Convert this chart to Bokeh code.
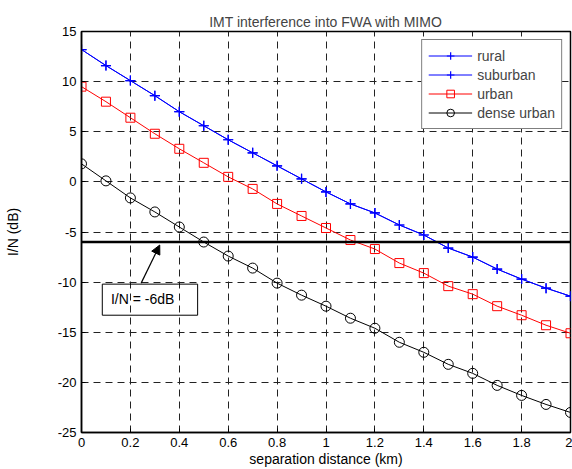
from bokeh.plotting import figure
from bokeh.models import (Span, Arrow, NormalHead, BoxAnnotation, Label, Legend,
                          LegendItem, FixedTicker, Range1d)
from bokeh.embed import file_html
from bokeh.resources import INLINE

# ---- data ----
distance_km = [0.0, 0.1, 0.2, 0.3, 0.4, 0.5, 0.6, 0.7, 0.8, 0.9, 1.0,
               1.1, 1.2, 1.3, 1.4, 1.5, 1.6, 1.7, 1.8, 1.9, 2.0]
rural = [13.2, 11.6, 10.1, 8.6, 7.0, 5.6, 4.2, 2.9, 1.6, 0.3, -1.0,
         -2.2, -3.1, -4.3, -5.3, -6.6, -7.5, -8.7, -9.7, -10.6, -11.4]
suburban = list(rural)
urban = [9.5, 8.0, 6.4, 4.8, 3.3, 1.9, 0.5, -0.7, -2.2, -3.4, -4.6,
         -5.8, -6.7, -8.1, -9.1, -10.4, -11.2, -12.4, -13.3, -14.3, -15.1]
dense_urban = [1.8, 0.1, -1.6, -3.0, -4.5, -6.0, -7.4, -8.6, -10.1, -11.3, -12.4,
               -13.6, -14.6, -16.0, -17.0, -18.2, -19.1, -20.3, -21.3, -22.2, -23.0]

x_ticks = [0, 0.2, 0.4, 0.6, 0.8, 1.0, 1.2, 1.4, 1.6, 1.8, 2.0]
x_tick_labels = ["0", "0.2", "0.4", "0.6", "0.8", "1", "1.2", "1.4", "1.6", "1.8", "2"]
y_ticks = [-25, -20, -15, -10, -5, 0, 5, 10, 15]
y_tick_labels = ["-25", "-20", "-15", "-10", "-5", "0", "5", "10", "15"]

threshold_db = -6
annotation_text = "I/N = -6dB"
arrow_tail = (0.244, -10.1)
arrow_tip = (0.32, -6.3)
text_box = dict(left=0.085, right=0.475, top=-10.2, bottom=-13.3)
text_pos = (0.25, -11.7)

FONT = "Liberation Sans"

p = figure(width=572, height=469, output_backend="svg", toolbar_location=None,
           x_range=Range1d(0, 2), y_range=Range1d(-25, 15),
           min_border_left=81, min_border_right=2, min_border_top=31,
           min_border_bottom=37)

p.title.text = "IMT interference into FWA with MIMO"
p.title.align = "center"
p.title.text_font = FONT
p.title.text_font_size = "14px"
p.title.text_font_style = "normal"
p.title.offset = 0
p.title.standoff = 4

p.outline_line_color = "black"
p.outline_line_width = 1.5
p.background_fill_color = "white"
p.border_fill_color = "white"

for ax in (p.xaxis[0], p.yaxis[0]):
    ax.axis_line_color = "black"
    ax.axis_line_width = 1.5
    ax.major_tick_in = 4
    ax.major_tick_out = 0
    ax.minor_tick_line_color = None
    ax.major_label_text_font = FONT
    ax.major_label_text_font_size = "13px"
    ax.major_label_text_color = "black"
    ax.axis_label_text_font = FONT
    ax.axis_label_text_font_size = "14px"
    ax.axis_label_text_font_style = "normal"
    ax.axis_label_text_color = "black"

p.xaxis.ticker = FixedTicker(ticks=x_ticks)
p.xaxis.major_label_overrides = {t: l for t, l in zip(x_ticks, x_tick_labels)}
p.yaxis.ticker = FixedTicker(ticks=y_ticks)
p.yaxis.major_label_overrides = {t: l for t, l in zip(y_ticks, y_tick_labels)}
p.xaxis.axis_label = "separation distance (km)"
p.yaxis.axis_label = "I/N (dB)"
p.xaxis.major_label_standoff = 5
p.yaxis.major_label_standoff = 5
p.xaxis.axis_label_standoff = 1
p.yaxis.axis_label_standoff = 34

p.grid.grid_line_color = "#222222"
p.grid.grid_line_dash = "7 5"
p.grid.grid_line_width = 1

# series
r1l = p.line(distance_km, rural, line_color="blue", line_width=1)
r1m = p.scatter(distance_km, rural, marker="cross", size=10, line_color="blue", line_width=1.2)
r2l = p.line(distance_km, suburban, line_color="blue", line_width=1)
r2m = p.scatter(distance_km, suburban, marker="cross", size=10, line_color="blue", line_width=1.2)
r3l = p.line(distance_km, urban, line_color="red", line_width=1)
r3m = p.scatter(distance_km, urban, marker="square", size=9, line_color="red",
                fill_color=None, line_width=1)
r4l = p.line(distance_km, dense_urban, line_color="black", line_width=1)
r4m = p.scatter(distance_km, dense_urban, marker="circle", size=10, line_color="black",
                fill_color=None, line_width=1)

# threshold line and annotation
p.add_layout(Span(location=threshold_db, dimension="width", line_color="black", line_width=2.5))
p.add_layout(Arrow(end=NormalHead(size=9, fill_color="black", line_color="black"),
                   x_start=arrow_tail[0], y_start=arrow_tail[1],
                   x_end=arrow_tip[0], y_end=arrow_tip[1],
                   line_color="black", line_width=1.2))
p.add_layout(BoxAnnotation(fill_color=None, fill_alpha=0, line_color="black", line_width=1,
                           line_alpha=1, **text_box))
p.add_layout(Label(x=text_pos[0], y=text_pos[1],
                   text=annotation_text, text_font=FONT, text_font_size="14px",
                   text_align="center", text_baseline="middle", text_color="black"))

legend = Legend(items=[
    LegendItem(label="rural", renderers=[r1l, r1m]),
    LegendItem(label="suburban", renderers=[r2l, r2m]),
    LegendItem(label="urban", renderers=[r3l, r3m]),
    LegendItem(label="dense urban", renderers=[r4l, r4m]),
], location="top_right")
legend.label_text_font = FONT
legend.label_text_font_size = "14px"
legend.glyph_width = 44
legend.glyph_height = 19
legend.label_height = 19
legend.spacing = 0
legend.padding = 6
legend.margin = 8
legend.label_standoff = 5
legend.border_line_color = "black"
legend.border_line_width = 1
legend.background_fill_alpha = 1
p.add_layout(legend)

open("out.html", "w").write(file_html(p, INLINE))
